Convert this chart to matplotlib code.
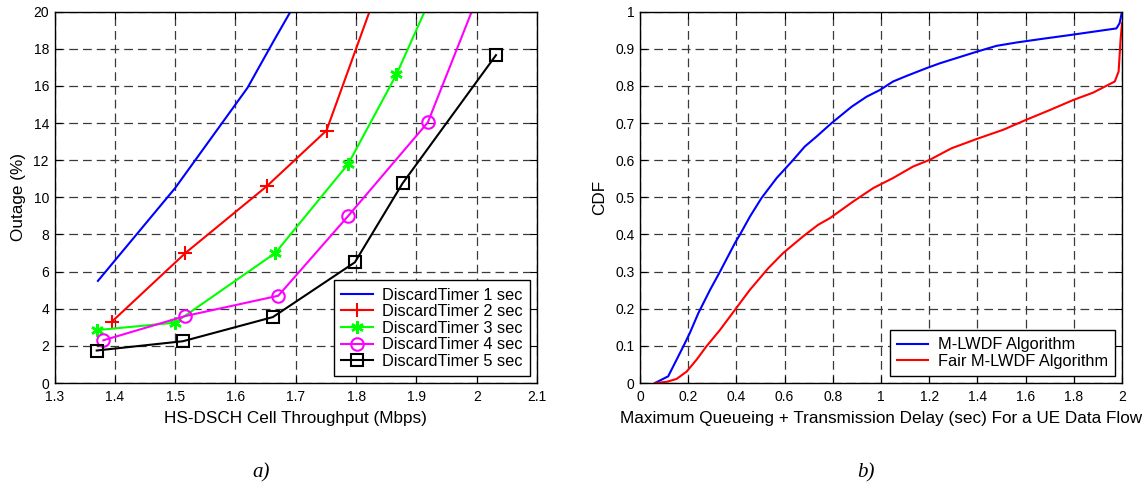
import matplotlib
matplotlib.use("Agg")
import matplotlib.pyplot as plt
import numpy as np

plt.rcParams['font.family'] = ['Liberation Sans', 'DejaVu Sans']

# ---- Panel a) data ----
dt1_x = [1.372, 1.5, 1.62, 1.663, 1.70]
dt1_y = [5.5, 10.5, 15.9, 18.4, 20.5]
dt2_x = [1.395, 1.517, 1.652, 1.751, 1.84]
dt2_y = [3.3, 7.0, 10.6, 13.6, 21.6]
dt3_x = [1.371, 1.500, 1.666, 1.787, 1.867, 1.93]
dt3_y = [2.85, 3.25, 7.0, 11.8, 16.62, 21.2]
dt4_x = [1.381, 1.516, 1.671, 1.787, 1.919, 2.01]
dt4_y = [2.3, 3.6, 4.7, 9.0, 14.04, 21.5]
dt5_x = [1.370, 1.513, 1.662, 1.798, 1.877, 2.032]
dt5_y = [1.75, 2.25, 3.55, 6.5, 10.75, 17.66]
labels_a = ['DiscardTimer 1 sec', 'DiscardTimer 2 sec', 'DiscardTimer 3 sec',
            'DiscardTimer 4 sec', 'DiscardTimer 5 sec']

# ---- Panel b) data ----
mlwdf_x = [0.062, 0.117, 0.138, 0.18, 0.207, 0.242, 0.29, 0.332, 0.394, 0.415, 0.456,
           0.504, 0.567, 0.629, 0.684, 0.733, 0.795, 0.878, 0.94, 0.995, 1.05, 1.106,
           1.189, 1.244, 1.396, 1.479, 1.562, 1.659, 1.783, 1.88, 1.977, 1.99, 2.0]
mlwdf_y = [0.0, 0.018, 0.045, 0.099, 0.135, 0.188, 0.25, 0.30, 0.377, 0.40, 0.448,
           0.498, 0.552, 0.596, 0.637, 0.664, 0.700, 0.744, 0.771, 0.789, 0.812, 0.827,
           0.848, 0.861, 0.892, 0.908, 0.917, 0.926, 0.937, 0.946, 0.955, 0.969, 1.0]
fair_x = [0.062, 0.11, 0.152, 0.194, 0.235, 0.276, 0.332, 0.394, 0.456, 0.532, 0.594,
          0.677, 0.739, 0.788, 0.885, 0.968, 1.05, 1.133, 1.202, 1.292, 1.396, 1.507,
          1.603, 1.70, 1.797, 1.88, 1.97, 1.986, 1.994, 2.0]
fair_y = [0.0, 0.003, 0.011, 0.031, 0.063, 0.099, 0.143, 0.197, 0.251, 0.309, 0.35,
          0.395, 0.426, 0.444, 0.489, 0.525, 0.552, 0.583, 0.601, 0.632, 0.657, 0.682,
          0.709, 0.735, 0.762, 0.782, 0.812, 0.839, 0.924, 0.969]
labels_b = ['M-LWDF Algorithm', 'Fair M-LWDF Algorithm']

W, H = 1145, 486
fig = plt.figure(figsize=(W / 100, H / 100), dpi=100)
axa = fig.add_axes([54.5 / W, 1 - 383 / H, (537 - 54.5) / W, (383 - 11.7) / H])
axb = fig.add_axes([640 / W, 1 - 383 / H, (1122 - 640) / W, (383 - 11.7) / H])

def style(ax):
    ax.grid(True, color='#3a3a3a', linestyle=(0, (7, 4)), linewidth=0.9)
    ax.tick_params(direction='in', top=True, right=True, labelsize=10, length=5,
                   width=0.8)
    ax.tick_params(axis='x', pad=5)
    ax.tick_params(axis='y', pad=4)
    for s in ax.spines.values():
        s.set_linewidth(1.0)
    ax.set_axisbelow(True)

def legend(ax):
    leg = ax.legend(loc='lower right', fontsize=11.8, frameon=True, fancybox=False,
                    edgecolor='black', framealpha=1, borderpad=0.45, labelspacing=0.1,
                    handlelength=1.9, handletextpad=0.6, borderaxespad=0.4)
    leg.get_frame().set_linewidth(1.0)

lw = 1.5
axa.plot(dt1_x, dt1_y, color='#0000ff', lw=lw, label=labels_a[0])
axa.plot(dt2_x, dt2_y, color='#ff0000', lw=lw, marker='+', ms=10, mew=1.5, label=labels_a[1])
axa.plot(dt3_x, dt3_y, color='#00ff00', lw=lw, marker=(6, 2, 0), ms=9, mew=1.8, label=labels_a[2])
axa.plot(dt4_x, dt4_y, color='#ff00ff', lw=lw, marker='o', ms=9, mfc='none', mew=1.5, label=labels_a[3])
axa.plot(dt5_x, dt5_y, color='#000000', lw=lw, marker='s', ms=8, mfc='none', mew=1.5, label=labels_a[4])
axa.set_xlim(1.3, 2.1)
axa.set_ylim(0, 20)
axa.set_xticks(np.arange(1.3, 2.1001, 0.1))
axa.set_xticklabels(['1.3', '1.4', '1.5', '1.6', '1.7', '1.8', '1.9', '2', '2.1'])
axa.set_yticks(np.arange(0, 20.01, 2))
axa.set_xlabel('HS-DSCH Cell Throughput (Mbps)', fontsize=12.3, labelpad=5)
axa.set_ylabel('Outage (%)', fontsize=12.3, labelpad=5)
style(axa)
legend(axa)

axb.plot(mlwdf_x, mlwdf_y, color='#0000ff', lw=lw, label=labels_b[0])
axb.plot(fair_x, fair_y, color='#ff0000', lw=lw, label=labels_b[1])
axb.set_xlim(0, 2)
axb.set_ylim(0, 1)
axb.set_xticks(np.arange(0, 2.001, 0.2))
axb.set_xticklabels(['0', '0.2', '0.4', '0.6', '0.8', '1', '1.2', '1.4', '1.6', '1.8', '2'])
axb.set_yticks(np.arange(0, 1.001, 0.1))
axb.set_yticklabels(['0', '0.1', '0.2', '0.3', '0.4', '0.5', '0.6', '0.7', '0.8', '0.9', '1'])
axb.set_xlabel('Maximum Queueing + Transmission Delay (sec) For a UE Data Flow', fontsize=12.3, labelpad=5)
axb.set_ylabel('CDF', fontsize=12.3, labelpad=6)
style(axb)
legend(axb)

fig.text(261 / W, 1 - 473 / H, 'a)', family='Liberation Serif', style='italic',
         fontsize=15, ha='center', va='center')
fig.text(866 / W, 1 - 473 / H, 'b)', family='Liberation Serif', style='italic',
         fontsize=15, ha='center', va='center')

fig.savefig('out.png', dpi=100)
